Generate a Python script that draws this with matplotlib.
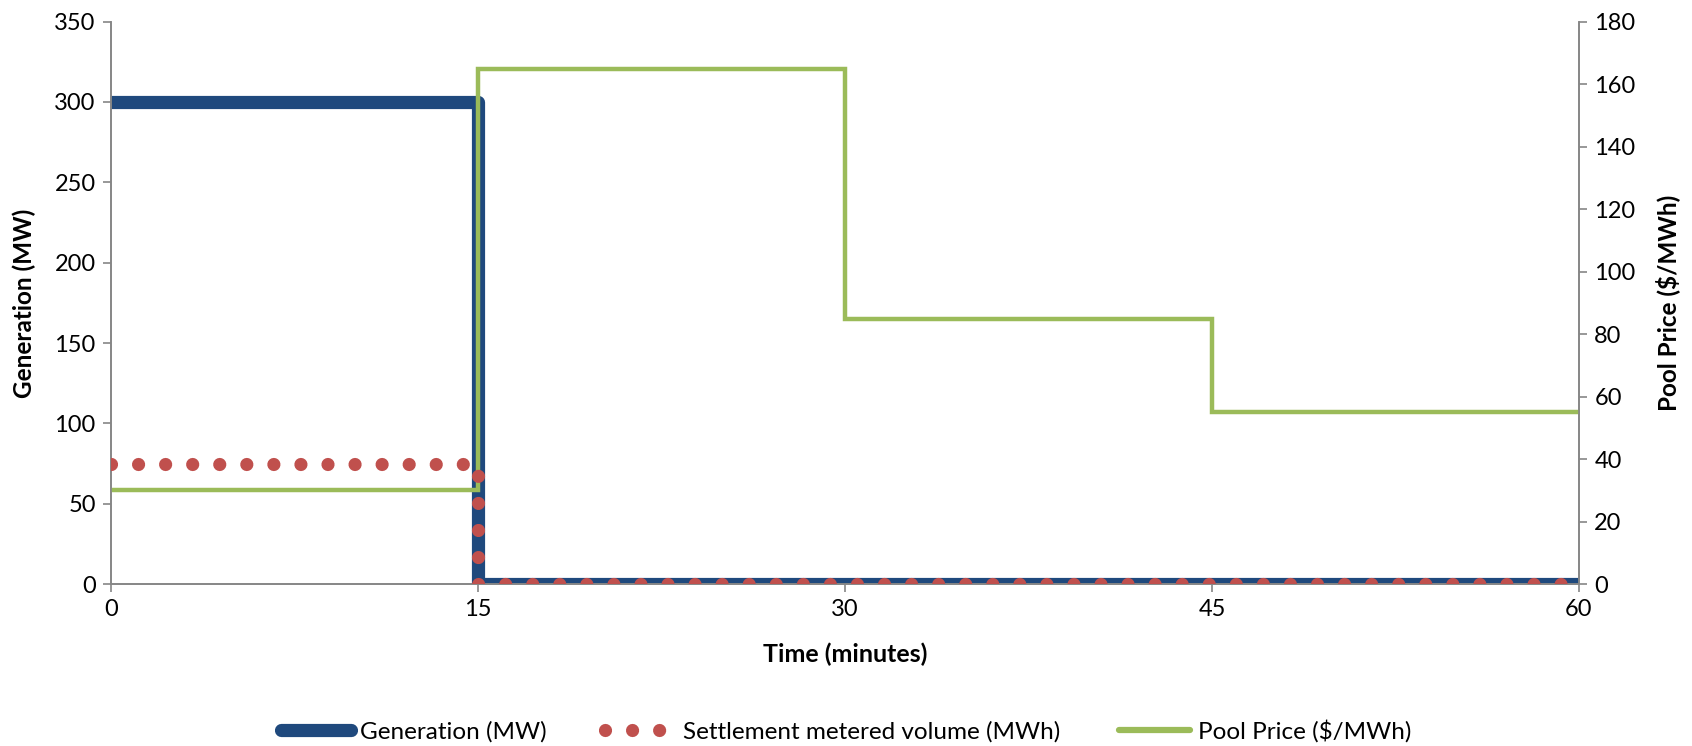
import matplotlib
matplotlib.use('Agg')
import matplotlib.pyplot as plt
from matplotlib.lines import Line2D

plt.rcParams['font.family'] = ['Lato', 'DejaVu Sans']

# 15-minute intervals (start of each interval, plus end point)
minutes = [0, 15, 30, 45, 60]
generation_mw = [300, 0, 0, 0, 0]
metered_mwh = [75, 0, 0, 0, 0]
pool_price = [30, 165, 85, 55, 55]

c_gen = '#1F497D'
c_vol = '#C0504D'
c_price = '#9BBB59'
c_axis = '#868686'
dots = (0, (0.001, 2.05))
fs = 17

fig = plt.figure(figsize=(16.92, 7.46), dpi=100)
rect = [0.0656, 0.217, 0.8676, 0.754]
ax = fig.add_axes(rect)
ax2 = ax.twinx()
# extra overlay sharing the MW scale so the dots sit above the price line
ax3 = fig.add_axes(rect, sharex=ax, sharey=ax)
ax3.axis('off')

ax.plot(minutes, generation_mw, drawstyle='steps-post', color=c_gen,
        lw=9.5, solid_joinstyle='round', solid_capstyle='round')
ax2.plot(minutes, pool_price, drawstyle='steps-post', color=c_price,
         lw=3.2, solid_joinstyle='miter')
ax3.plot(minutes, metered_mwh, drawstyle='steps-post', color=c_vol,
         lw=9.5, linestyle=dots, dash_capstyle='round')

ax.set_xlim(0, 60)
ax.set_ylim(0, 350)
ax2.set_ylim(0, 180)
ax.set_xticks([0, 15, 30, 45, 60])
ax.set_yticks(range(0, 351, 50))
ax2.set_yticks(range(0, 181, 20))

for a in (ax, ax2):
    a.spines['top'].set_visible(False)
    for s in ('left', 'right', 'bottom'):
        a.spines[s].set_color(c_axis)
        a.spines[s].set_linewidth(1.2)
    a.tick_params(direction='out', length=6, width=1.2, color=c_axis,
                  labelsize=fs, pad=5)

ax.set_ylabel('Generation (MW)', fontsize=17.5, fontweight='bold', labelpad=13.5)
ax2.set_ylabel(r'Pool Price (\$/MWh)', fontsize=17.5, fontweight='bold', labelpad=14)
ax.set_xlabel('Time (minutes)', fontsize=18, fontweight='bold', labelpad=16)

handles = [
    Line2D([], [], color=c_gen, lw=9.5, solid_capstyle='round'),
    Line2D([], [], color=c_vol, lw=9.5, linestyle=dots, dash_capstyle='round'),
    Line2D([], [], color=c_price, lw=4.5, solid_capstyle='round'),
]
labels = ['Generation (MW)', 'Settlement metered volume (MWh)', r'Pool Price (\$/MWh)']
fig.legend(handles, labels, loc='center', bbox_to_anchor=(0.5, 0.02),
           ncol=3, frameon=False, fontsize=17.5, handlelength=2.9,
           handletextpad=0.35, columnspacing=2.4)

fig.savefig('out.png', dpi=100)
